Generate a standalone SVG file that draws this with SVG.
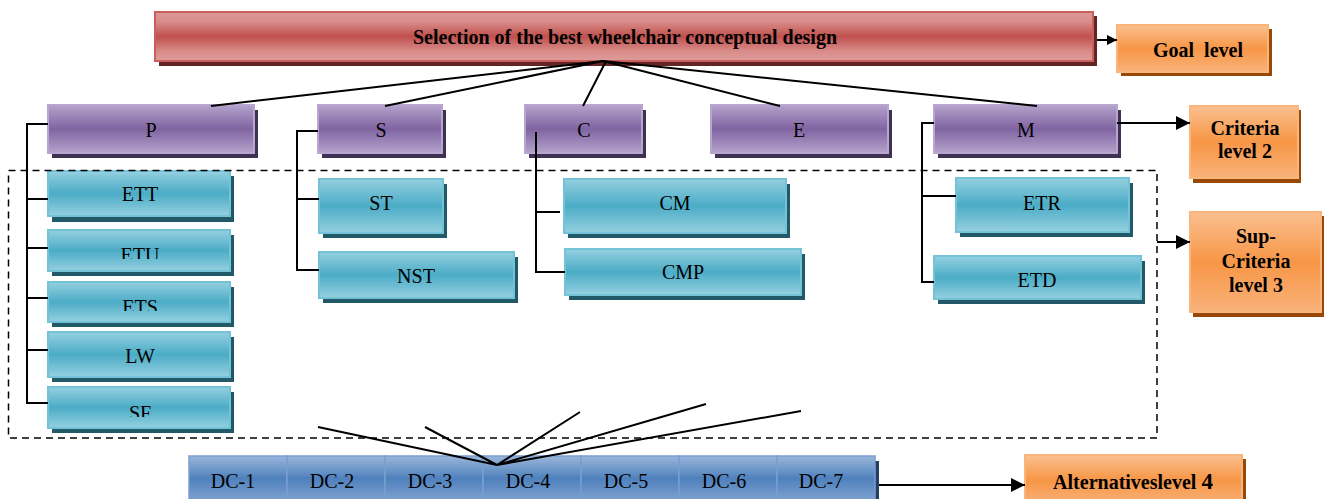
<svg xmlns="http://www.w3.org/2000/svg" width="1328" height="499" viewBox="0 0 1328 499">
  <defs>
    <linearGradient id="gRed" x1="0" y1="0" x2="0" y2="1">
      <stop offset="0" stop-color="#dc9b9a"/>
      <stop offset="0.2" stop-color="#d98c8a"/>
      <stop offset="0.5" stop-color="#c0504d"/>
      <stop offset="0.8" stop-color="#d98c8a"/>
      <stop offset="1" stop-color="#dc9b9a"/>
    </linearGradient>
    <linearGradient id="gPurple" x1="0" y1="0" x2="0" y2="1">
      <stop offset="0" stop-color="#b4a3cb"/>
      <stop offset="0.5" stop-color="#8064a2"/>
      <stop offset="1" stop-color="#b4a3cb"/>
    </linearGradient>
    <linearGradient id="gTeal" x1="0" y1="0" x2="0" y2="1">
      <stop offset="0" stop-color="#95d0e0"/>
      <stop offset="0.5" stop-color="#4bacc6"/>
      <stop offset="1" stop-color="#95d0e0"/>
    </linearGradient>
    <linearGradient id="gOrange" x1="0" y1="0" x2="0" y2="1">
      <stop offset="0" stop-color="#fac090"/>
      <stop offset="0.5" stop-color="#f79646"/>
      <stop offset="1" stop-color="#f9b27a"/>
    </linearGradient>
    <linearGradient id="gBlue" x1="0" y1="0" x2="0" y2="1">
      <stop offset="0" stop-color="#9ab6da"/>
      <stop offset="0.5" stop-color="#4f81bd"/>
      <stop offset="1" stop-color="#7fa2d0"/>
    </linearGradient>
    <marker id="arrow" viewBox="0 0 10 10" refX="10" refY="5" markerWidth="10" markerHeight="10" markerUnits="userSpaceOnUse" orient="auto">
      <path d="M0,0 L10,5 L0,10 z" fill="#000"/>
    </marker>
    <marker id="arrowBig" viewBox="0 0 14 14" refX="14" refY="7" markerWidth="14" markerHeight="14" markerUnits="userSpaceOnUse" orient="auto">
      <path d="M0,0 L14,7 L0,14 z" fill="#000"/>
    </marker>
    <clipPath id="clipETU"><rect x="48" y="230" width="185" height="29"/></clipPath>
    <clipPath id="clipETS"><rect x="48" y="282" width="185" height="29"/></clipPath>
    <clipPath id="clipSF"><rect x="48" y="387" width="185" height="30"/></clipPath>
  </defs>
  <style>
    .red { fill: url(#gRed); stroke: #c9605d; stroke-width: 2; }
    .redSh { fill: #632523; }
    .pur { fill: url(#gPurple); stroke: #b8a6d0; stroke-width: 2; }
    .purSh { fill: #3f3151; }
    .teal { fill: url(#gTeal); stroke: #74c2d6; stroke-width: 2; }
    .tealSh { fill: #215968; }
    .org { fill: url(#gOrange); stroke: #fab57a; stroke-width: 2; }
    .orgSh { fill: #984807; }
    .blue { fill: url(#gBlue); stroke: #7a9fcf; stroke-width: 1.5; }
    .blueSh { fill: #243f60; }
    .lbl { font-family: "Liberation Serif", "Times New Roman", serif; font-size: 20px; fill: #000; text-anchor: middle; }
    .bold { font-weight: bold; }
    .ln { stroke: #000; stroke-width: 2; fill: none; }
    .dash { stroke: #000; stroke-width: 1.5; fill: none; stroke-dasharray: 7 5; }
  </style>

  <!-- goal -->
  <g id="goal">
    <rect class="redSh" x="159" y="16" width="938" height="50"/>
    <rect class="red" x="155" y="12" width="938" height="49"/>
    <text class="lbl bold" x="625" y="44" font-size="22">Selection of the best wheelchair conceptual design</text>
  </g>

  <!-- level labels -->
  <g id="goal-level">
    <rect class="orgSh" x="1121" y="29" width="151" height="47"/>
    <rect class="org" x="1117" y="25" width="151" height="47"/>
    <text class="lbl bold" x="1198" y="57" font-size="21" xml:space="preserve">Goal  level</text>
  </g>
  <g id="criteria-level">
    <rect class="orgSh" x="1193" y="110" width="108" height="73"/>
    <rect class="org" x="1190" y="106" width="108" height="72"/>
    <text class="lbl bold" x="1245" y="135" font-size="18">Criteria</text>
    <text class="lbl bold" x="1245" y="158" font-size="18">level 2</text>
  </g>
  <g id="subcriteria-level">
    <rect class="orgSh" x="1193" y="216" width="131" height="101"/>
    <rect class="org" x="1190" y="212" width="131" height="100"/>
    <text class="lbl bold" x="1256" y="243" font-size="21">Sup-</text>
    <text class="lbl bold" x="1256" y="268" font-size="21">Criteria</text>
    <text class="lbl bold" x="1256" y="292" font-size="21">level 3</text>
  </g>
  <g id="alternatives-level">
    <rect class="orgSh" x="1029" y="459" width="217" height="45"/>
    <rect class="org" x="1025" y="455" width="217" height="50"/>
    <text class="lbl bold" x="1133" y="489" font-size="20">Alternativeslevel <tspan font-size="23">4</tspan></text>
  </g>

  <!-- criteria -->
  <g id="P">
    <rect class="purSh" x="52" y="110" width="206" height="48"/>
    <rect class="pur" x="48" y="105" width="206" height="48"/>
    <text class="lbl" x="151" y="137">P</text>
  </g>
  <g id="S">
    <rect class="purSh" x="322" y="110" width="124" height="48"/>
    <rect class="pur" x="318" y="105" width="124" height="48"/>
    <text class="lbl" x="381" y="137">S</text>
  </g>
  <g id="C">
    <rect class="purSh" x="529" y="110" width="117" height="48"/>
    <rect class="pur" x="525" y="105" width="117" height="48"/>
    <text class="lbl" x="584" y="137">C</text>
  </g>
  <g id="E">
    <rect class="purSh" x="715" y="110" width="177" height="48"/>
    <rect class="pur" x="711" y="105" width="177" height="48"/>
    <text class="lbl" x="799" y="137">E</text>
  </g>
  <g id="M">
    <rect class="purSh" x="938" y="110" width="183" height="48"/>
    <rect class="pur" x="934" y="105" width="183" height="48"/>
    <text class="lbl" x="1026" y="137">M</text>
  </g>

  <!-- sub-criteria under P -->
  <g id="ETT">
    <rect class="tealSh" x="52" y="176" width="182" height="46"/>
    <rect class="teal" x="48" y="171" width="182" height="45"/>
    <text class="lbl" x="140" y="201">ETT</text>
  </g>
  <g id="ETU">
    <rect class="tealSh" x="52" y="235" width="182" height="41"/>
    <rect class="teal" x="48" y="230" width="182" height="41"/>
    <text class="lbl" x="140" y="262" clip-path="url(#clipETU)">ETU</text>
  </g>
  <g id="ETS">
    <rect class="tealSh" x="52" y="287" width="182" height="40"/>
    <rect class="teal" x="48" y="282" width="182" height="40"/>
    <text class="lbl" x="140" y="314" clip-path="url(#clipETS)">ETS</text>
  </g>
  <g id="LW">
    <rect class="tealSh" x="52" y="337" width="182" height="45"/>
    <rect class="teal" x="48" y="332" width="182" height="45"/>
    <text class="lbl" x="140" y="363">LW</text>
  </g>
  <g id="SF">
    <rect class="tealSh" x="52" y="392" width="182" height="41"/>
    <rect class="teal" x="48" y="387" width="182" height="41"/>
    <text class="lbl" x="140" y="420" clip-path="url(#clipSF)">SF</text>
  </g>

  <!-- sub-criteria under S -->
  <g id="ST">
    <rect class="tealSh" x="323" y="184" width="124" height="54"/>
    <rect class="teal" x="319" y="179" width="124" height="54"/>
    <text class="lbl" x="381" y="210">ST</text>
  </g>
  <g id="NST">
    <rect class="tealSh" x="323" y="257" width="195" height="46"/>
    <rect class="teal" x="319" y="252" width="195" height="46"/>
    <text class="lbl" x="416" y="283">NST</text>
  </g>

  <!-- sub-criteria under C -->
  <g id="CM">
    <rect class="tealSh" x="568" y="184" width="222" height="54"/>
    <rect class="teal" x="564" y="179" width="222" height="54"/>
    <text class="lbl" x="675" y="210">CM</text>
  </g>
  <g id="CMP">
    <rect class="tealSh" x="569" y="254" width="236" height="46"/>
    <rect class="teal" x="565" y="249" width="236" height="46"/>
    <text class="lbl" x="683" y="279">CMP</text>
  </g>

  <!-- sub-criteria under M -->
  <g id="ETR">
    <rect class="tealSh" x="960" y="183" width="173" height="54"/>
    <rect class="teal" x="956" y="178" width="173" height="54"/>
    <text class="lbl" x="1042" y="210">ETR</text>
  </g>
  <g id="ETD">
    <rect class="tealSh" x="938" y="261" width="207" height="43"/>
    <rect class="teal" x="934" y="256" width="207" height="43"/>
    <text class="lbl" x="1037" y="287">ETD</text>
  </g>

  <!-- alternatives -->
  <g id="alternatives">
    <rect class="blueSh" x="192" y="461" width="687" height="40"/>
    <g id="DC-1"><rect class="blue" x="189" y="456" width="98" height="45"/><text class="lbl" x="233" y="488" font-size="21">DC-1</text></g>
    <g id="DC-2"><rect class="blue" x="287" y="456" width="98" height="45"/><text class="lbl" x="332" y="488" font-size="21">DC-2</text></g>
    <g id="DC-3"><rect class="blue" x="385" y="456" width="98" height="45"/><text class="lbl" x="430" y="488" font-size="21">DC-3</text></g>
    <g id="DC-4"><rect class="blue" x="483" y="456" width="98" height="45"/><text class="lbl" x="528" y="488" font-size="21">DC-4</text></g>
    <g id="DC-5"><rect class="blue" x="581" y="456" width="98" height="45"/><text class="lbl" x="626" y="488" font-size="21">DC-5</text></g>
    <g id="DC-6"><rect class="blue" x="679" y="456" width="98" height="45"/><text class="lbl" x="724" y="488" font-size="21">DC-6</text></g>
    <g id="DC-7"><rect class="blue" x="777" y="456" width="98" height="45"/><text class="lbl" x="821" y="488" font-size="21">DC-7</text></g>
  </g>

  <!-- connectors -->
  <g id="connectors">
    <!-- goal to criteria -->
    <path class="ln" d="M603,61 L211,106 M603,61 L385,106 M606,61 L583,106 M603,61 L780,106 M603,61 L1037,106"/>
    <!-- P branch -->
    <path class="ln" d="M48,124 H27 V403 H48 M27,199 H48 M27,248 H48 M27,298 H48 M27,350 H48"/>
    <!-- S branch -->
    <path class="ln" d="M318,131 H297 V270 H319 M297,199 H319"/>
    <!-- C branch -->
    <path class="ln" d="M536,132 V272 H565 M536,212 H560"/>
    <!-- M branch -->
    <path class="ln" d="M934,123 H922 V282 H934 M922,196 H956"/>
    <!-- sub-criteria frame -->
    <rect class="dash" x="8.5" y="170.5" width="1148.5" height="267.5"/>
    <!-- alternatives fan -->
    <path class="ln" d="M497,465 L318,427 M497,465 L425,427 M497,465 L580,412 M497,465 L706,404 M497,465 L801,411"/>
    <!-- level arrows -->
    <line class="ln" x1="1097" y1="40" x2="1117" y2="40" marker-end="url(#arrow)"/>
    <line class="ln" x1="1117" y1="123" x2="1190" y2="123" marker-end="url(#arrowBig)"/>
    <line class="ln" x1="1157" y1="242" x2="1190" y2="242" marker-end="url(#arrowBig)"/>
    <line class="ln" x1="879" y1="485" x2="1025" y2="485" marker-end="url(#arrowBig)"/>
  </g>
</svg>
